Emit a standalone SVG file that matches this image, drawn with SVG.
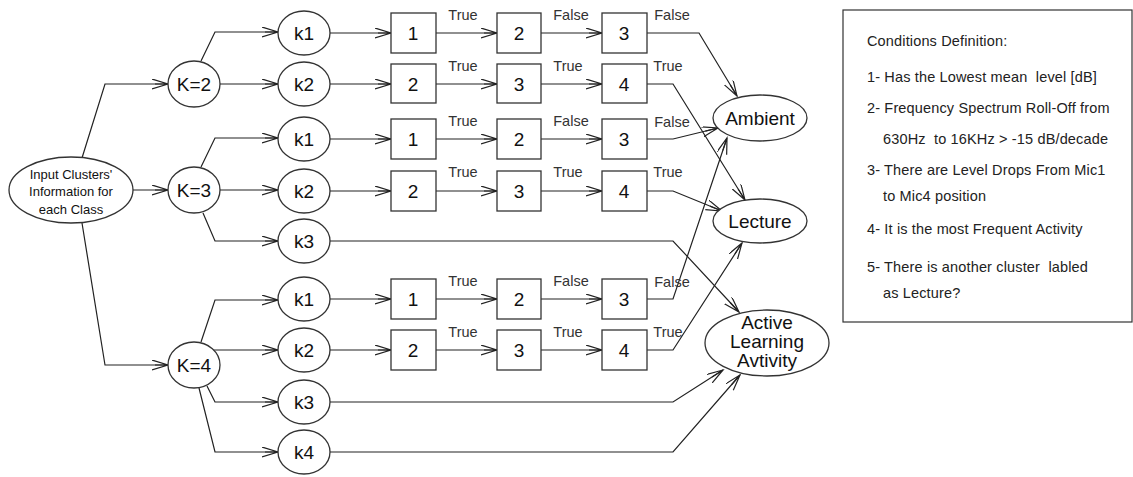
<svg xmlns="http://www.w3.org/2000/svg" width="1133" height="477" viewBox="0 0 1133 477">
<style>
.n{fill:#fff;stroke:#333;stroke-width:1.3}
.c{fill:none;stroke:#222;stroke-width:1.2;marker-end:url(#a)}
text{font-family:"Liberation Sans",Arial,sans-serif;fill:#111;white-space:pre}
.t{font-size:19px;text-anchor:middle}
.l{font-size:14.5px;text-anchor:middle;fill:#333}
.g{font-size:14.5px;fill:#222;letter-spacing:0.15px}
</style>
<defs>
<marker id="a" markerUnits="userSpaceOnUse" markerWidth="18" markerHeight="12" refX="16" refY="5" orient="auto">
<path d="M0,0 L16,5 L0,10 M3,5 L16,5" fill="none" stroke="#222" stroke-width="1.2"/>
</marker>
</defs>
<rect width="1133" height="477" fill="#fff"/>
<g id="connectors">
<polyline class="c" points="82,158 105,84 168,84"/>
<polyline class="c" points="133,190 168,190"/>
<polyline class="c" points="82,223 105,365 168,365"/>
<polyline class="c" points="201,61 215,32 278,32"/>
<polyline class="c" points="220,84 278,84"/>
<polyline class="c" points="201,167 215,138 278,138"/>
<polyline class="c" points="220,190 278,190"/>
<polyline class="c" points="203,213 215,241 278,241"/>
<polyline class="c" points="201,342 215,300 278,300"/>
<polyline class="c" points="213,350 278,350"/>
<polyline class="c" points="207,386 215,402 278,402"/>
<polyline class="c" points="199,388 215,452 278,452"/>
<g id="rows">
<line class="c" x1="330" y1="33" x2="391" y2="33"/><line class="c" x1="436" y1="33" x2="497" y2="33"/><line class="c" x1="541" y1="33" x2="602" y2="33"/>
<line class="c" x1="330" y1="84" x2="391" y2="84"/><line class="c" x1="436" y1="84" x2="497" y2="84"/><line class="c" x1="541" y1="84" x2="602" y2="84"/>
<line class="c" x1="330" y1="139" x2="391" y2="139"/><line class="c" x1="436" y1="139" x2="497" y2="139"/><line class="c" x1="541" y1="139" x2="602" y2="139"/>
<line class="c" x1="330" y1="191" x2="391" y2="191"/><line class="c" x1="436" y1="191" x2="497" y2="191"/><line class="c" x1="541" y1="191" x2="602" y2="191"/>
<line class="c" x1="330" y1="299" x2="391" y2="299"/><line class="c" x1="436" y1="299" x2="497" y2="299"/><line class="c" x1="541" y1="299" x2="602" y2="299"/>
<line class="c" x1="330" y1="350" x2="391" y2="350"/><line class="c" x1="436" y1="350" x2="497" y2="350"/><line class="c" x1="541" y1="350" x2="602" y2="350"/>
</g>
<polyline class="c" points="647,33 699,33 737,96"/>
<polyline class="c" points="647,84 673,84 745,200"/>
<polyline class="c" points="647,139 673,139 718,128"/>
<polyline class="c" points="647,191 673,191 722,211"/>
<polyline class="c" points="330,241 673,241 739,312"/>
<polyline class="c" points="647,299 673,299 727,138"/>
<polyline class="c" points="647,350 673,350 742,243"/>
<polyline class="c" points="330,402 673,402 723,370"/>
<polyline class="c" points="330,452 673,452 740,375"/>
</g>
<g id="edge-labels">
<text class="l" x="463" y="20">True</text><text class="l" x="571" y="20">False</text><text class="l" x="672" y="20">False</text>
<text class="l" x="463" y="71">True</text><text class="l" x="568" y="71">True</text><text class="l" x="668" y="71">True</text>
<text class="l" x="463" y="126">True</text><text class="l" x="571" y="126">False</text><text class="l" x="672" y="127">False</text>
<text class="l" x="463" y="177">True</text><text class="l" x="568" y="177">True</text><text class="l" x="668" y="177">True</text>
<text class="l" x="463" y="286">True</text><text class="l" x="571" y="286">False</text><text class="l" x="672" y="287">False</text>
<text class="l" x="463" y="337">True</text><text class="l" x="568" y="337">True</text><text class="l" x="668" y="337">True</text>
</g>
<g id="input"><ellipse class="n" cx="71" cy="190" rx="62" ry="33"/>
<text x="71" y="179" font-size="13" text-anchor="middle" fill="#333">Input Clusters'</text>
<text x="71" y="196" font-size="13" text-anchor="middle" fill="#333">Information for</text>
<text x="71" y="214" font-size="13" text-anchor="middle" fill="#333">each Class</text></g>
<g id="K2"><ellipse class="n" cx="194" cy="84" rx="26" ry="23"/><text class="t" x="194" y="91">K=2</text></g>
<g id="K3"><ellipse class="n" cx="194" cy="190" rx="26" ry="23"/><text class="t" x="194" y="197">K=3</text></g>
<g id="K4"><ellipse class="n" cx="194" cy="365" rx="26" ry="23"/><text class="t" x="194" y="372">K=4</text></g>
<g id="K2k1"><ellipse class="n" cx="304" cy="33" rx="26" ry="22"/><text class="t" x="304" y="40">k1</text></g>
<g id="K2k2"><ellipse class="n" cx="304" cy="84" rx="26" ry="22"/><text class="t" x="304" y="91">k2</text></g>
<g id="K3k1"><ellipse class="n" cx="304" cy="139" rx="26" ry="22"/><text class="t" x="304" y="146">k1</text></g>
<g id="K3k2"><ellipse class="n" cx="304" cy="191" rx="26" ry="22"/><text class="t" x="304" y="198">k2</text></g>
<g id="K3k3"><ellipse class="n" cx="304" cy="241" rx="26" ry="22"/><text class="t" x="304" y="248">k3</text></g>
<g id="K4k1"><ellipse class="n" cx="304" cy="299" rx="26" ry="22"/><text class="t" x="304" y="306">k1</text></g>
<g id="K4k2"><ellipse class="n" cx="304" cy="350" rx="26" ry="22"/><text class="t" x="304" y="357">k2</text></g>
<g id="K4k3"><ellipse class="n" cx="304" cy="402" rx="26" ry="22"/><text class="t" x="304" y="409">k3</text></g>
<g id="K4k4"><ellipse class="n" cx="304" cy="452" rx="26" ry="22"/><text class="t" x="304" y="459">k4</text></g>
<g id="r1"><rect class="n" x="391" y="13" width="45" height="40"/><text class="t" x="413" y="40">1</text>
<rect class="n" x="497" y="13" width="44" height="40"/><text class="t" x="519" y="40">2</text>
<rect class="n" x="602" y="13" width="45" height="40"/><text class="t" x="624" y="40">3</text></g>
<g id="r2"><rect class="n" x="391" y="64" width="45" height="39"/><text class="t" x="413" y="91">2</text>
<rect class="n" x="497" y="64" width="44" height="39"/><text class="t" x="519" y="91">3</text>
<rect class="n" x="602" y="64" width="45" height="39"/><text class="t" x="624" y="91">4</text></g>
<g id="r3"><rect class="n" x="391" y="119" width="45" height="40"/><text class="t" x="413" y="146">1</text>
<rect class="n" x="497" y="119" width="44" height="40"/><text class="t" x="519" y="146">2</text>
<rect class="n" x="602" y="119" width="45" height="40"/><text class="t" x="624" y="146">3</text></g>
<g id="r4"><rect class="n" x="391" y="171" width="45" height="40"/><text class="t" x="413" y="198">2</text>
<rect class="n" x="497" y="171" width="44" height="40"/><text class="t" x="519" y="198">3</text>
<rect class="n" x="602" y="171" width="45" height="40"/><text class="t" x="624" y="198">4</text></g>
<g id="r6"><rect class="n" x="391" y="279" width="45" height="40"/><text class="t" x="413" y="306">1</text>
<rect class="n" x="497" y="279" width="44" height="40"/><text class="t" x="519" y="306">2</text>
<rect class="n" x="602" y="279" width="45" height="40"/><text class="t" x="624" y="306">3</text></g>
<g id="r7"><rect class="n" x="391" y="330" width="45" height="40"/><text class="t" x="413" y="357">2</text>
<rect class="n" x="497" y="330" width="44" height="40"/><text class="t" x="519" y="357">3</text>
<rect class="n" x="602" y="330" width="45" height="40"/><text class="t" x="624" y="357">4</text></g>
<g id="ambient"><ellipse class="n" cx="760" cy="118" rx="47" ry="23"/><text class="t" x="760" y="125" font-size="19.5">Ambient</text></g>
<g id="lecture"><ellipse class="n" cx="760" cy="221" rx="47" ry="22"/><text class="t" x="760" y="228" font-size="19.5">Lecture</text></g>
<g id="active"><ellipse class="n" cx="767" cy="343" rx="62" ry="33"/>
<text class="t" x="767" y="329" font-size="18">Active</text><text class="t" x="767" y="348" font-size="18">Learning</text><text class="t" x="767" y="367" font-size="18">Avtivity</text></g>
<g id="legend"><rect x="843" y="10" width="289" height="312" fill="#fff" stroke="#333" stroke-width="1.2"/>
<text class="g" x="867" y="46">Conditions Definition:</text>
<text class="g" x="867" y="82">1- Has the Lowest mean  level [dB]</text>
<text class="g" x="867" y="113">2- Frequency Spectrum Roll-Off from</text>
<text class="g" x="883" y="144">630Hz  to 16KHz &gt; -15 dB/decade</text>
<text class="g" x="867" y="175">3- There are Level Drops From Mic1</text>
<text class="g" x="883" y="201">to Mic4 position</text>
<text class="g" x="867" y="234">4- It is the most Frequent Activity</text>
<text class="g" x="867" y="272">5- There is another cluster  labled</text>
<text class="g" x="883" y="298">as Lecture?</text></g>
</svg>
